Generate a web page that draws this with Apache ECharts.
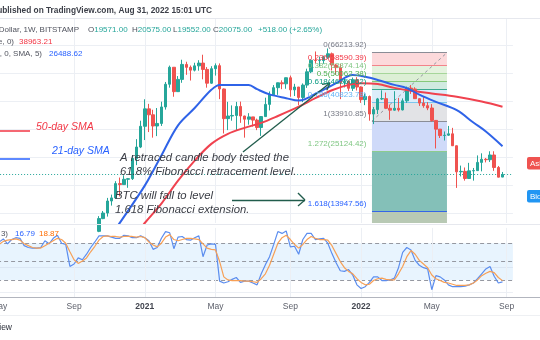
<!DOCTYPE html>
<html>
<head>
<meta charset="utf-8">
<title>BTC/USD 1W</title>
<script src="https://cdn.jsdelivr.net/npm/echarts@6/dist/echarts.min.js"></script>
<style>
html,body{margin:0;padding:0;background:#ffffff;}
#chart{width:540px;height:340px;}
</style>
</head>
<body>
<div id="chart"></div>
<script>
// Weekly bars (Monday opens) from May 2020, plus two empty weeks of right margin
const weeks = [];
for (let i = 0; i < 124; i++) {
  weeks.push(new Date(Date.UTC(2020, 4, 4) + i * 7 * 86400000).toISOString().slice(0, 10));
}

const opens = [
  8890, 8720, 9680, 8900, 9450, 9760, 9380, 9300, 9000, 9280,
  9240, 9160, 9930, 11050, 11890, 11650, 11680, 11700, 10260, 10780,
  10920, 10790, 11080, 11370, 11500, 13030, 13760, 15480, 15960, 18360,
  18180, 19150, 19270, 23480, 26270, 32190, 38180, 36030, 32280, 33100,
  38900, 48600, 57400, 45200, 50970, 59020, 57350, 55800, 58200, 59800,
  56200, 49100, 56600, 58300, 46400, 34700, 35600, 35800, 39100, 35600,
  34500, 35300, 34200, 31800, 35400, 39900, 43800, 47000, 49300, 48800,
  51800, 46000, 47300, 42700, 48200, 54900, 61500, 61300, 61300, 63300,
  65500, 58700, 57200, 49400, 50100, 46700, 50800, 47300, 41800, 43100,
  36300, 37900, 42100, 42200, 38400, 37700, 38400, 37800, 41300, 46800,
  46400, 42200, 40400, 39400, 38500, 34100, 31300, 29400, 29500, 29900,
  26600, 20600, 20700, 19300, 20800, 20850, 22600, 23300, 23200, 24300,
  21500, 19571
];
const highs = [
  10070, 9950, 9850, 9740, 10430, 10000, 9600, 9800, 9300, 9470,
  9270, 9960, 12120, 11810, 12090, 12470, 11800, 12090, 10800, 11180,
  10950, 10950, 11490, 11740, 13350, 14040, 15960, 16480, 18800, 19480,
  19910, 19400, 24300, 28380, 34000, 41950, 40100, 37850, 38500, 40960,
  49700, 58350, 57500, 52650, 61800, 60600, 58400, 60000, 61500, 64900,
  57500, 58000, 59600, 59600, 46600, 40900, 39500, 40900, 41000, 35700,
  36600, 35300, 34700, 35500, 42600, 45300, 48200, 49400, 50500, 51900,
  52900, 48800, 47300, 49000, 56600, 62000, 67000, 63700, 64300, 69000,
  66300, 59300, 59300, 51900, 50500, 51900, 52100, 47600, 44400, 43500,
  38900, 42500, 45800, 44800, 39800, 45400, 42500, 42300, 47500, 48200,
  47200, 42400, 42900, 40800, 40000, 34200, 31300, 30600, 32300, 31700,
  26700, 21900, 21500, 22500, 21400, 24200, 24700, 23600, 25200, 25200,
  21820, 20575
];
const lows = [
  8130, 8190, 8800, 8640, 9300, 9090, 9200, 8830, 8900, 9100,
  9050, 9130, 9920, 10920, 11150, 11300, 11100, 9900, 9860, 10650,
  10130, 10420, 10540, 11180, 11410, 12960, 13290, 14800, 15800, 16190,
  18160, 17620, 19020, 22000, 26000, 28130, 30420, 28800, 29240, 32300,
  37900, 47000, 43000, 45100, 49300, 53300, 50400, 55100, 55500, 51000,
  47000, 48800, 52900, 42000, 30000, 31000, 34000, 31000, 33300, 28800,
  32700, 32100, 31000, 29300, 35300, 37600, 43300, 43800, 46300, 46500,
  43000, 43300, 39600, 40800, 46900, 54200, 59600, 58000, 59400, 62300,
  55600, 53300, 42000, 47100, 45500, 45500, 45700, 40500, 39600, 34000,
  32900, 36300, 41700, 39500, 34300, 37500, 37200, 37600, 40500, 44200,
  42100, 39300, 38600, 37700, 33700, 25900, 28700, 28000, 29300, 28900,
  17600, 19700, 18900, 19200, 18900, 20800, 20700, 22600, 22700, 20800,
  19520, 19552
];
const closes = [
  8720, 9680, 8900, 9450, 9760, 9380, 9300, 9000, 9280, 9240,
  9160, 9930, 11050, 11890, 11650, 11680, 11700, 10260, 10780, 10920,
  10790, 11080, 11370, 11500, 13030, 13760, 15480, 15960, 18360, 18180,
  19150, 19270, 23480, 26270, 32190, 38180, 36030, 32280, 33100, 38900,
  48600, 57400, 45200, 50970, 59020, 57350, 55800, 58200, 59800, 56200,
  49100, 56600, 58300, 46400, 34700, 35600, 35800, 39100, 35600, 34500,
  35300, 34200, 31800, 35400, 39900, 43800, 47000, 49300, 48800, 51800,
  46000, 47300, 42700, 48200, 54900, 61500, 61300, 61300, 63300, 65500,
  58700, 57200, 49400, 50100, 46700, 50800, 47300, 41800, 43100, 36300,
  37900, 42100, 42200, 38400, 37700, 38400, 37800, 41300, 46800, 46400,
  42200, 40400, 39400, 38500, 34100, 31300, 29400, 29500, 29900, 26600,
  20600, 20700, 19300, 20800, 20850, 22600, 23300, 23200, 24300, 21500,
  19557, 20075
];

// Moving averages, [week index, value]
const sma21 = [
  [28, 11800], [29, 12500], [35, 18000], [39, 24200], [43, 32500], [47, 38500],
  [51, 46000], [53, 48300], [57, 48300], [60, 48200], [62, 46300], [65, 44000],
  [69, 42400], [72, 41400], [77, 45200], [81, 49100], [85, 53200], [88, 52300],
  [91, 50700], [95, 48300], [98, 46800], [101, 43900], [105, 40900], [110, 37700],
  [114, 33400], [117, 30600], [121, 26488.62]
];
const sma50 = [
  [34, 11800], [35, 12480], [39, 15100], [43, 18900], [47, 23000], [51, 27100],
  [55, 29900], [59, 31700], [63, 33300], [67, 35600], [72, 39000], [76, 42400],
  [80, 45800], [84, 48300], [87, 49100], [91, 48700], [95, 46900], [99, 45600],
  [104, 44400], [110, 43000], [116, 41000], [121, 38963.21]
];

// Stochastic RSI %K / %D, one value per week
const stochK = [
  82, 87, 79, 86, 89, 88, 76, 73, 72, 72,
  73, 84, 79, 88, 93, 80, 78, 42, 46, 56,
  53, 62, 73, 82, 92, 92, 92, 90, 88, 88,
  93, 92, 89, 89, 92, 89, 84, 70, 73, 88,
  99, 97, 71, 90, 91, 86, 85, 89, 92, 58,
  77, 79, 78, 18, 15, 17, 21, 24, 16, 18,
  18, 15, 12, 30, 45, 58, 78, 99, 96, 100,
  74, 75, 62, 86, 96, 96, 86, 87, 88, 80,
  63, 48, 35, 34, 37, 28, 12, 6, 9, 16,
  25, 25, 19, 19, 20, 23, 40, 65, 73, 69,
  52, 44, 40, 38, 4, 27, 25, 20, 12, 9,
  9, 9, 10, 12, 15, 22, 30, 38, 42, 26,
  15, 16.79
];
const stochD = [
  78, 83, 85, 86, 87, 85, 79, 76, 73, 72,
  72, 76, 80, 84, 88, 86, 80, 66, 53, 47,
  51, 56, 66, 75, 85, 91, 92, 91, 91, 90,
  91, 91, 91, 90, 91, 89, 82, 77, 74, 80,
  90, 94, 86, 84, 86, 88, 88, 87, 86, 79,
  72, 70, 69, 50, 25, 20, 19, 19, 19, 18,
  18, 17, 16, 22, 30, 44, 62, 80, 89, 93,
  86, 78, 72, 78, 86, 91, 88, 86, 86, 85,
  76, 63, 50, 40, 34, 30, 22, 16, 12, 13,
  19, 22, 23, 21, 20, 20, 30, 42, 58, 68,
  62, 52, 46, 40, 28, 22, 19, 16, 15, 13,
  11, 11, 11, 12, 15, 20, 27, 31, 34, 32,
  24, 18.87
];

// Fibonacci retracement / extension drawn from 66213.92 down to 33910.85
const fibLevels = [0, 0.236, 0.382, 0.5, 0.618, 0.786, 1, 1.272, 1.618];
const fibPrices = [66213.92, 58590.39, 53874.14, 50062.38, 46250.62, 40823.78, 33910.85, 25124.42, 13947.56];

const gridPrices = [13790, 18110, 23830, 31290, 41110, 54000, 70900];

// ---- layout / style ----
const PRICE_MIN = 12480, PRICE_MAX = 92100;
const FIB_X0 = 89.62, FIB_X1 = 107.65;
const UP = '#26a69a', DOWN = '#ef5350';
const FONT = '"Liberation Sans", Arial, sans-serif';
const N = weeks.length;
const last = closes.length - 1;

const fibFill = ['#fcd9db', '#e4f2de', '#dcefd5', '#d0eae0', '#dcedfa', '#e2e3e6', '#cfdaf9', '#84c0b8', '#b8c9b4'];
const fibLine = ['#8a8d96', '#f3838a', '#a6d69a', '#86c97a', '#3aa98f', '#7cc7ee', '#8a8d96', '#8ccc8e', '#3565e8'];
const fibText = ['#787b86', '#f23645', '#81c784', '#4caf50', '#089981', '#64b5f6', '#787b86', '#81c784', '#2962ff'];

function monthOf(i) { return new Date(weeks[i] + 'T00:00:00Z').getUTCMonth(); }
function isTickWeek(i) {
  const m = monthOf(i);
  if (m % 4 !== 0) return false;
  return i === 0 || monthOf(i - 1) !== m;
}
const tickWeeks = weeks.map((w, i) => i).filter(isTickWeek);

const candles = opens.map((o, i) => [o, closes[i], lows[i], highs[i]]);

const fibAreas = fibPrices.map((p, i) => {
  const next = i < fibPrices.length - 1 ? fibPrices[i + 1] : PRICE_MIN;
  return [{ coord: [FIB_X0, p], itemStyle: { color: fibFill[i], opacity: 1 } }, { coord: [FIB_X1, next] }];
});
const fibLines = fibPrices.map((p, i) => [
  { coord: [FIB_X0, p], lineStyle: { color: fibLine[i], width: 1, type: 'solid' } },
  { coord: [FIB_X1, p] }
]);
fibLines.push([
  { coord: [FIB_X0, fibPrices[6]], lineStyle: { color: '#9598a1', width: 1, type: [3, 3] } },
  { coord: [FIB_X1, fibPrices[0]] }
]);
const fibLabels = fibPrices.map((p, i) => ({
  coord: [FIB_X0, p],
  symbol: 'circle', symbolSize: 1, itemStyle: { color: 'rgba(0,0,0,0)' },
  label: {
    show: true, position: 'left', distance: 5, offset: [0, -7.5],
    formatter: fibLevels[i] + '(' + p.toFixed(2) + ')',
    color: fibText[i], fontSize: 8, fontFamily: FONT
  }
}));

// drawing-tool arrows and guide lines, in (week, price) coordinates
const ARROW = '#215c4c';
const seg = (a, b, color, w) => [{ coord: a, lineStyle: { color: color, width: w, type: 'solid' } }, { coord: b }];
const noteLines = [
  seg([58.61, 25020], [79.52, 49200], ARROW, 1.3),
  seg([77.63, 48530], [79.52, 49200], ARROW, 1.3),
  seg([78.76, 45800], [79.52, 49200], ARROW, 1.3),
  seg([55.97, 15640], [73.51, 15640], ARROW, 1.3),
  seg([71.83, 16750], [73.51, 15640], ARROW, 1.3),
  seg([71.83, 14750], [73.51, 15640], ARROW, 1.3),
  seg([-0.5, 30740], [7.41, 30740], '#f23645', 1.5),
  seg([-0.5, 23480], [7.41, 23480], '#2962ff', 1.5)
];

const GRID_COLOR = '#eceff4';
const HEAD = '8px ' + FONT;

const option = {
  animation: false,
  backgroundColor: '#ffffff',
  grid: [
    { left: -2.9, right: 27.1, top: 19, height: 204, outerBoundsMode: 'none' },
    { left: -2.9, right: 27.1, top: 227.9, height: 69.8, outerBoundsMode: 'none' }
  ],
  xAxis: [
    { type: 'category', gridIndex: 0, data: weeks, boundaryGap: true, show: false },
    { type: 'value', gridIndex: 0, min: -0.5, max: N - 0.5, show: false },
    {
      type: 'category', gridIndex: 1, data: weeks, boundaryGap: true,
      axisLine: { show: false }, axisTick: { show: false }, splitLine: { show: false },
      axisLabel: {
        interval: (i) => isTickWeek(i),
        margin: 4,
        formatter: (v) => {
          const d = new Date(v + 'T00:00:00Z');
          const m = d.getUTCMonth();
          if (m === 0) return '{y|' + d.getUTCFullYear() + '}';
          return '{m|' + (m === 4 ? 'May' : 'Sep') + '}';
        },
        rich: {
          y: { fontSize: 8.5, fontWeight: 'bold', color: '#42454f', fontFamily: FONT },
          m: { fontSize: 8.5, color: '#5d606b', fontFamily: FONT }
        }
      }
    }
  ],
  yAxis: [
    { type: 'log', logBase: 10, gridIndex: 0, min: PRICE_MIN, max: PRICE_MAX, show: false, splitLine: { show: false } },
    { type: 'value', gridIndex: 1, min: -9, max: 105, show: false, splitLine: { show: false } }
  ],
  series: [
    {
      // price-pane grid
      type: 'line', xAxisIndex: 1, yAxisIndex: 0, data: [], z: 0, silent: true,
      markLine: {
        silent: true, symbol: ['none', 'none'], label: { show: false }, z: 0,
        lineStyle: { color: GRID_COLOR, width: 1, type: 'solid' },
        data: gridPrices.map(p => ({ yAxis: p })).concat(tickWeeks.map(i => ({ xAxis: i })))
      }
    },
    {
      // Fibonacci tool
      type: 'line', xAxisIndex: 1, yAxisIndex: 0, data: [], z: 1, silent: true,
      markArea: { silent: true, z: 1, data: fibAreas },
      markLine: {
        silent: true, symbol: ['none', 'none'], label: { show: false }, z: 2,
        data: fibLines.concat([{ yAxis: closes[last], lineStyle: { color: UP, width: 1, type: [1, 2] } }])
      }
    },
    {
      type: 'candlestick', xAxisIndex: 0, yAxisIndex: 0, data: candles, barWidth: 3, z: 3,
      itemStyle: { color: UP, color0: DOWN, borderColor: UP, borderColor0: DOWN, borderWidth: 1 }
    },
    {
      type: 'line', xAxisIndex: 1, yAxisIndex: 0, data: sma50, z: 4, symbol: 'none', smooth: 0.35,
      lineStyle: { color: '#f0424f', width: 2 }
    },
    {
      type: 'line', xAxisIndex: 1, yAxisIndex: 0, data: sma21, z: 4, symbol: 'none', smooth: 0.35,
      lineStyle: { color: '#2f63e8', width: 2 }
    },
    {
      // notes layer
      type: 'line', xAxisIndex: 1, yAxisIndex: 0, data: [], z: 6, silent: true,
      markLine: { silent: true, symbol: ['none', 'none'], label: { show: false }, z: 6, data: noteLines },
      markPoint: { silent: true, z: 7, data: fibLabels }
    },
    {
      // oscillator background
      type: 'line', xAxisIndex: 2, yAxisIndex: 1, data: [], z: 1, silent: true,
      markArea: { silent: true, z: 1, itemStyle: { color: 'rgba(33,150,243,0.1)' }, data: [[{ yAxis: 20 }, { yAxis: 80 }]] },
      markLine: {
        silent: true, symbol: ['none', 'none'], label: { show: false }, z: 1,
        data: [
          { yAxis: 0, lineStyle: { color: GRID_COLOR, width: 1, type: 'solid' } },
          { yAxis: 40, lineStyle: { color: '#dbe6f3', width: 1, type: 'solid' } },
          { yAxis: 80, lineStyle: { color: '#9598a1', width: 1, type: [4, 3] } },
          { yAxis: 50, lineStyle: { color: '#9598a1', width: 1, type: [4, 3] } },
          { yAxis: 20, lineStyle: { color: '#9598a1', width: 1, type: [4, 3] } }
        ].concat(tickWeeks.map(i => ({ xAxis: weeks[i], lineStyle: { color: GRID_COLOR, width: 1, type: 'solid' } })))
      }
    },
    {
      type: 'line', xAxisIndex: 2, yAxisIndex: 1, data: stochK, z: 2, symbol: 'none',
      lineStyle: { color: '#5b8def', width: 1.2 }
    },
    {
      type: 'line', xAxisIndex: 2, yAxisIndex: 1, data: stochD, z: 3, symbol: 'none',
      lineStyle: { color: '#f7a056', width: 1.2 }
    }
  ],
  graphic: [
    // frame lines
    { type: 'line', z: 100, shape: { x1: 0, y1: 18.5, x2: 540, y2: 18.5 }, style: { stroke: '#e6e8ee', lineWidth: 1 } },
    { type: 'line', z: 100, shape: { x1: 0, y1: 224.5, x2: 540, y2: 224.5 }, style: { stroke: '#e6e8ee', lineWidth: 1 } },
    { type: 'line', z: 100, shape: { x1: 0, y1: 297.5, x2: 540, y2: 297.5 }, style: { stroke: '#b2b5be', lineWidth: 1 } },
    { type: 'line', z: 100, shape: { x1: 0, y1: 315.5, x2: 540, y2: 315.5 }, style: { stroke: '#eef0f3', lineWidth: 1 } },

    // header
    { type: 'text', z: 100, x: 212, y: 10.5, style: { text: 'BTCUSD published on TradingView.com, Aug 31, 2022 15:01 UTC', align: 'right', verticalAlign: 'middle', fill: '#3c3f48', font: 'bold 8.3px ' + FONT } },
    { type: 'text', z: 100, x: 79, y: 29.5, style: { text: 'Bitcoin / U.S. Dollar, 1W, BITSTAMP', align: 'right', verticalAlign: 'middle', fill: '#50535e', font: HEAD } },
    { type: 'text', z: 100, x: 88, y: 29.5, style: { text: '{g|O}{v|' + opens[last].toFixed(2) + '}', verticalAlign: 'middle', rich: { g: { fill: '#50535e', font: HEAD }, v: { fill: UP, font: HEAD } } } },
    { type: 'text', z: 100, x: 132, y: 29.5, style: { text: '{g|H}{v|' + highs[last].toFixed(2) + '}', verticalAlign: 'middle', rich: { g: { fill: '#50535e', font: HEAD }, v: { fill: UP, font: HEAD } } } },
    { type: 'text', z: 100, x: 173, y: 29.5, style: { text: '{g|L}{v|' + lows[last].toFixed(2) + '}', verticalAlign: 'middle', rich: { g: { fill: '#50535e', font: HEAD }, v: { fill: UP, font: HEAD } } } },
    { type: 'text', z: 100, x: 213, y: 29.5, style: { text: '{g|C}{v|' + closes[last].toFixed(2) + '}', verticalAlign: 'middle', rich: { g: { fill: '#50535e', font: HEAD }, v: { fill: UP, font: HEAD } } } },
    { type: 'text', z: 100, x: 258, y: 29.5, style: { text: '+' + (closes[last] - closes[last - 1]).toFixed(2) + ' (+' + ((closes[last] - closes[last - 1]) / closes[last - 1] * 100).toFixed(2) + '%)', verticalAlign: 'middle', fill: UP, font: HEAD } },
    { type: 'text', z: 100, x: 14, y: 42, style: { text: 'MA (50, close, 0)', align: 'right', verticalAlign: 'middle', fill: '#50535e', font: HEAD } },
    { type: 'text', z: 100, x: 19, y: 42, style: { text: sma50[sma50.length - 1][1].toFixed(2), verticalAlign: 'middle', fill: '#f23645', font: HEAD } },
    { type: 'text', z: 100, x: 42, y: 54, style: { text: 'MA (21, close, 0, SMA, 5)', align: 'right', verticalAlign: 'middle', fill: '#50535e', font: HEAD } },
    { type: 'text', z: 100, x: 49, y: 54, style: { text: sma21[sma21.length - 1][1].toFixed(2), verticalAlign: 'middle', fill: '#2962ff', font: HEAD } },

    // oscillator legend
    { type: 'text', z: 100, x: 8, y: 234, style: { text: 'Stoch RSI (14, 14, 3, 3)', align: 'right', verticalAlign: 'middle', fill: '#50535e', font: '8px ' + FONT } },
    { type: 'text', z: 100, x: 15, y: 234, style: { text: stochK[last].toFixed(2), verticalAlign: 'middle', fill: '#2962ff', font: '8px ' + FONT } },
    { type: 'text', z: 100, x: 39, y: 234, style: { text: stochD[last].toFixed(2), verticalAlign: 'middle', fill: '#ff6d00', font: '8px ' + FONT } },

    // notes
    { type: 'text', z: 100, x: 36, y: 127, style: { text: '50-day SMA', verticalAlign: 'middle', fill: '#f23645', font: 'italic 10.5px ' + FONT } },
    { type: 'text', z: 100, x: 52, y: 151, style: { text: '21-day SMA', verticalAlign: 'middle', fill: '#2962ff', font: 'italic 10.5px ' + FONT } },
    { type: 'text', z: 100, x: 120, y: 158, style: { text: 'A retraced candle body tested the', verticalAlign: 'middle', fill: '#3a3d45', font: 'italic 11.3px ' + FONT } },
    { type: 'text', z: 100, x: 120, y: 172, style: { text: '61.8% Fibonacci retracement level.', verticalAlign: 'middle', fill: '#3a3d45', font: 'italic 11.3px ' + FONT } },
    { type: 'text', z: 100, x: 115, y: 196, style: { text: 'BTC will fall to level', verticalAlign: 'middle', fill: '#3a3d45', font: 'italic 11.3px ' + FONT } },
    { type: 'text', z: 100, x: 115, y: 210, style: { text: '1.618 Fibonacci extension.', verticalAlign: 'middle', fill: '#3a3d45', font: 'italic 11.3px ' + FONT } },

    // price-scale tags
    { type: 'rect', z: 100, shape: { x: 527, y: 157, width: 30, height: 12.5, r: 2 }, style: { fill: '#ef5350' } },
    { type: 'text', z: 101, x: 530, y: 163.5, style: { text: 'Ask', verticalAlign: 'middle', fill: '#ffffff', font: '8px ' + FONT } },
    { type: 'rect', z: 100, shape: { x: 527, y: 190, width: 30, height: 12.5, r: 2 }, style: { fill: '#2196f3' } },
    { type: 'text', z: 101, x: 530, y: 196.5, style: { text: 'Bid', verticalAlign: 'middle', fill: '#ffffff', font: '8px ' + FONT } },

    // footer
    { type: 'text', z: 100, x: 12, y: 328, style: { text: 'TradingView', align: 'right', verticalAlign: 'middle', fill: '#2a2e39', font: '8.5px ' + FONT } }
  ]
};

const chart = echarts.init(document.getElementById('chart'), null, { renderer: 'canvas', width: 540, height: 340 });
chart.setOption(option);
</script>
</body>
</html>
